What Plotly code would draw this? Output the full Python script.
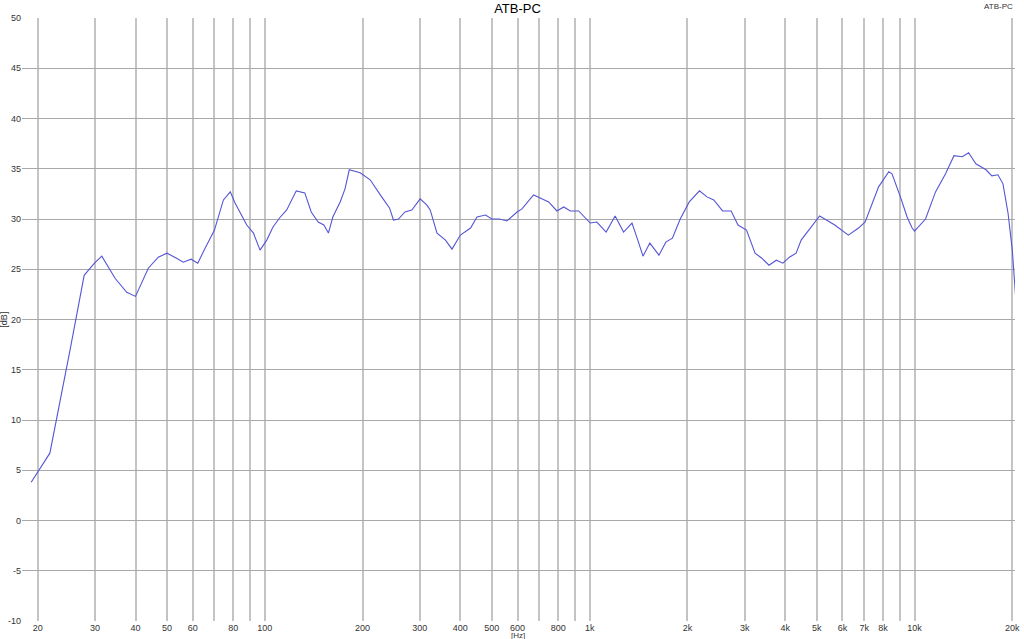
import plotly.graph_objects as go

freq_hz = [19.1, 21.8, 25.2, 27.8, 29.9, 31.5, 34.6, 37.6, 40, 43.8, 47, 50, 53.5, 56.1, 59.3, 62.2,
           65.5, 70, 74.6, 78.3, 81, 83.9, 88, 92.3, 96.7, 101.4, 106, 111, 116.8, 125, 132.8, 139,
           146, 152, 157, 162, 170.6, 176.6, 182, 196.6, 211, 226.8, 242, 249, 258, 270, 283.6,
           300.8, 315, 323, 339, 360, 377, 400, 430, 450, 478, 500, 528, 556, 598, 619, 672, 704,
           748, 793, 832, 872, 925, 1004, 1052, 1124, 1198, 1272, 1350, 1400, 1460, 1532, 1634,
           1716, 1798, 1900, 2026, 2178, 2296, 2410, 2566, 2726, 2862, 3040, 3230, 3388, 3566,
           3754, 3934, 4120, 4320, 4478, 4810, 5104, 5420, 5682, 6256, 6726, 7048, 7392, 7752,
           8332, 8525, 9048, 9488, 9832, 10000, 10812, 11606, 12460, 13226, 14036, 14670, 15450,
           16600, 17300, 18060, 18720, 19400, 20000, 20480]
level_db = [3.8, 6.7, 17.1, 24.4, 25.6, 26.3, 24.1, 22.7, 22.3, 25.1, 26.2, 26.6, 26.1, 25.7, 26.0, 25.6,
            27.1, 28.9, 31.9, 32.7, 31.6, 30.7, 29.4, 28.6, 26.9, 27.9, 29.2, 30.1, 30.9, 32.8, 32.6, 30.7,
            29.7, 29.4, 28.6, 30.2, 31.7, 33.0, 34.9, 34.6, 33.9, 32.4, 31.1, 29.9, 30.0, 30.7, 30.9,
            32.0, 31.4, 30.9, 28.6, 27.9, 27.0, 28.4, 29.1, 30.2, 30.4, 30.0, 30.0, 29.8, 30.7, 31.0, 32.4, 32.1,
            31.7, 30.8, 31.2, 30.8, 30.8, 29.6, 29.7, 28.7, 30.3, 28.7, 29.6, 28.1, 26.3, 27.6, 26.4,
            27.7, 28.1, 30.0, 31.7, 32.8, 32.2, 31.9, 30.8, 30.8, 29.4, 28.9, 26.6, 26.1, 25.4,
            25.9, 25.6, 26.2, 26.6, 27.9, 29.2, 30.3, 29.8, 29.4, 28.4, 29.1, 29.7, 31.4, 33.2,
            34.7, 34.5, 32.2, 30.2, 29.1, 28.8, 30.0, 32.7, 34.5, 36.3, 36.2, 36.6, 35.5,
            34.9, 34.3, 34.4, 33.5, 30.6, 26.9, 22.2]

x_grid_vals = [20, 30, 40, 50, 60, 70, 80, 90, 100, 200, 300, 400, 500, 600, 700, 800, 900,
               1000, 2000, 3000, 4000, 5000, 6000, 7000, 8000, 9000, 10000, 20000]
x_tick_text = ["20", "30", "40", "50", "60", "", "80", "", "100", "200", "300", "400", "500", "600", "",
               "800", "", "1k", "2k", "3k", "4k", "5k", "6k", "7k", "8k", "", "10k", "20k"]
y_tick_vals = list(range(-10, 51, 5))
y_tick_text = [str(v) for v in y_tick_vals]

title_text = "ATB-PC"

fig = go.Figure()
fig.add_trace(go.Scatter(x=freq_hz, y=level_db, mode="lines",
                         line=dict(color="#5555d6", width=1.1), showlegend=False))

font_family = "Liberation Sans, Arial, sans-serif"
fig.update_layout(
    width=1024, height=639,
    margin=dict(l=22, r=9, t=18, b=18, autoexpand=False),
    paper_bgcolor="white", plot_bgcolor="white",
    font=dict(family=font_family, size=9, color="#333333"),
    title=dict(text=title_text, x=0.5054, xanchor="center", y=0.986, yanchor="middle",
               font=dict(family=font_family, size=13, color="#000000")),
    xaxis=dict(type="log", range=[1.2527, 4.3093], tickvals=x_grid_vals, ticktext=x_tick_text,
               showgrid=True, gridcolor="#c4c4c4", gridwidth=1.5, zeroline=False, automargin=False,
               showline=False, ticks="", ticklabelstandoff=0, tickfont=dict(size=9, color="#333333")),
    yaxis=dict(range=[-10, 50], tickvals=y_tick_vals, ticktext=y_tick_text, showgrid=True,
               gridcolor="#a8a8a8", automargin=False, ticklabelstandoff=0,
               gridwidth=1, zeroline=False, showline=False, ticks="",
               tickfont=dict(size=9, color="#333333")),
    annotations=[
        dict(text="[Hz]", xref="paper", yref="paper", x=0.499, y=-0.0235, xanchor="center",
             yanchor="middle", showarrow=False, font=dict(size=8, color="#333333")),
        dict(text="[dB]", xref="paper", yref="paper", x=-0.019, y=0.5, textangle=-90,
             xanchor="center", yanchor="middle", showarrow=False, font=dict(size=9, color="#333333")),
        dict(text=title_text, xref="paper", yref="paper", x=1.0, y=1.0185, xanchor="right",
             yanchor="middle", showarrow=False, font=dict(size=8, color="#333333")),
    ],
)

fig.write_html("out.html", config={"displayModeBar": False},
               post_script="document.body.style.margin='0';document.body.style.overflow='hidden';")
